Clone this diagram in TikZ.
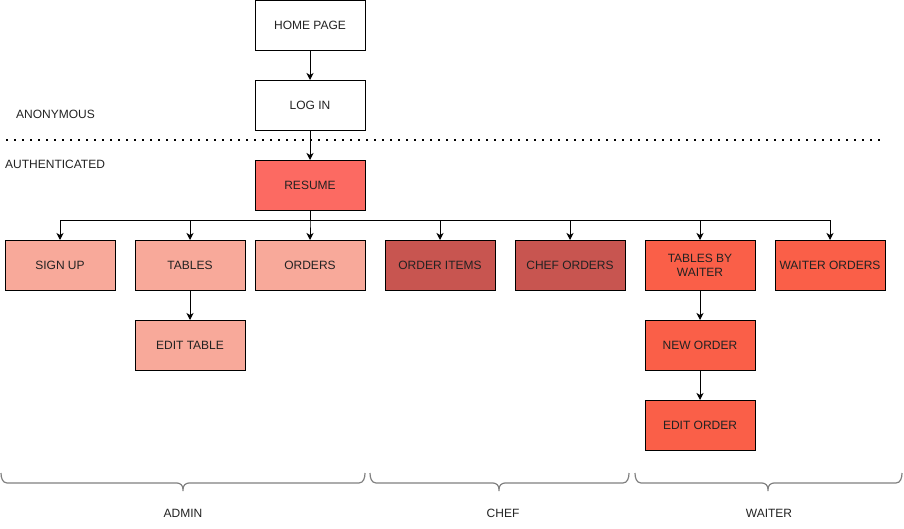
\documentclass[tikz,border=0pt]{standalone}
\usepackage{fontspec}
\setmainfont{Liberation Sans}
\usetikzlibrary{arrows.meta}
\definecolor{cResume}{HTML}{FC6A62}
\definecolor{cAdmin}{HTML}{F8A99A}
\definecolor{cChef}{HTML}{C85550}
\definecolor{cWaiter}{HTML}{FA5F48}
\definecolor{cText}{HTML}{222222}
\definecolor{cBrace}{HTML}{808080}
\tikzset{
  box/.style={draw=black, line width=1pt, minimum width=110pt, minimum height=50pt, inner sep=0pt, font=\fontsize{12}{14}\selectfont, text=cText, align=center},
  conn/.style={line width=1pt, -{Stealth[length=7pt,width=7pt,inset=2pt]}},
  lbl/.style={font=\fontsize{12}{14}\selectfont, text=cText, inner sep=0pt},
  bracestyle/.style={draw=cBrace, line width=1.2pt}
}
\begin{document}
\begin{tikzpicture}[x=1pt,y=-1pt]
\useasboundingbox (0,0) rectangle (904,529);
% top
\node[box, fill=white] (home) at (310,25.5) {HOME PAGE};
\node[box, fill=white] (login) at (310,105.5) {LOG IN};
\node[box, fill=cResume] (resume) at (310,185.5) {RESUME};
% row
\node[box, fill=cAdmin] (signup) at (60,265.5) {SIGN UP};
\node[box, fill=cAdmin] (tables) at (190,265.5) {TABLES};
\node[box, fill=cAdmin] (orders) at (310,265.5) {ORDERS};
\node[box, fill=cChef] (orderitems) at (440,265.5) {ORDER ITEMS};
\node[box, fill=cChef] (cheforders) at (570,265.5) {CHEF ORDERS};
\node[box, fill=cWaiter] (tbw) at (700,265.5) {TABLES BY\\WAITER};
\node[box, fill=cWaiter] (waiterorders) at (830,265.5) {WAITER ORDERS};
\node[box, fill=cAdmin] (edittable) at (190,345.5) {EDIT TABLE};
\node[box, fill=cWaiter] (neworder) at (700,345.5) {NEW ORDER};
\node[box, fill=cWaiter] (editorder) at (700,425.5) {EDIT ORDER};
% labels
\node[lbl, anchor=west] (anon) at (16,114.5) {ANONYMOUS};
\node[lbl, anchor=west] (auth) at (5,164.5) {AUTHENTICATED};
\coordinate (dotL) at (6,140.5);
\coordinate (dotR) at (881,140.5);
\draw[line width=2pt, dash pattern=on 2pt off 6pt] (dotL) -- (dotR);
% connectors
\draw[conn] (home) -- (login);
\draw[conn] (login) -- (resume);
\coordinate (bus) at (310,220.5);
\foreach \n in {signup,tables,orders,orderitems,cheforders,tbw,waiterorders}{
  \draw[conn] (resume.south) -- (bus) -| (\n.north);
}
\draw[conn] (tables) -- (edittable);
\draw[conn] (tbw) -- (neworder);
\draw[conn] (neworder) -- (editorder);
% braces
\foreach \a/\m/\b in {1/183/365, 370/499/629, 635/768/902}{
  \draw[bracestyle] (\a,473) to[out=-90,in=180] (\a+6,483) -- (\m-6,483) to[out=0,in=90] (\m,489) -- (\m,491);
  \draw[bracestyle] (\b,473) to[out=-90,in=0] (\b-6,483) -- (\m+6,483) to[out=180,in=90] (\m,489);
}
\node[lbl] (admin) at (183,513) {ADMIN};
\node[lbl] (chef) at (503,513) {CHEF};
\node[lbl] (waiter) at (769,513) {WAITER};
\end{tikzpicture}
\end{document}
